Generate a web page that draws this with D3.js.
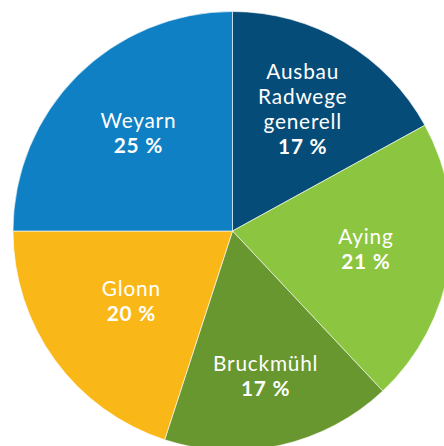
<!DOCTYPE html>
<html>
<head>
<meta charset="utf-8">
<script src="https://cdn.jsdelivr.net/npm/d3@7"></script>
<style>
    body { margin: 0; background: white; }
    .lbl { font-family: Lato, "Noto Sans", sans-serif; fill: white; letter-spacing: 0.8px; }
</style>
</head>
<body>
<svg width="444" height="446" id="mainsvg"></svg>
<script>
    // data
    const names = ["Ausbau Radwege generell", "Aying", "Bruckmühl", "Glonn", "Weyarn"];
    const labelLines = [["Ausbau", "Radwege", "generell"], ["Aying"], ["Bruckmühl"], ["Glonn"], ["Weyarn"]];
    const shares = [17, 21, 17, 20, 25];
    const colors = ["#054c79", "#8cc540", "#67972e", "#fab818", "#0f80c3"];

    // label distance from centre, per slice
    const labelRadius = { "Ausbau Radwege generell": 138, "Aying": 135, "Bruckmühl": 152, "Glonn": 125, "Weyarn": 133 };

    const svg = d3.select('#mainsvg');
    const cx = 232.5, cy = 231, radius = 219.5;
    const g = svg.append('g').attr('transform', `translate(${cx}, ${cy})`);

    const rows = names.map((n, i) => ({ name: n, value: shares[i], lines: labelLines[i], color: colors[i] }));

    const pie = d3.pie().sort(null).value(d => d.value);
    const arcs = pie(rows);
    const arc = d3.arc().innerRadius(0).outerRadius(radius);

    g.selectAll('.slice').data(arcs).join('path')
        .attr('class', 'slice')
        .attr('d', arc)
        .attr('fill', d => d.data.color)
        .attr('stroke', 'white')
        .attr('stroke-width', 0.6);

    const lineH = 25;
    const lbl = g.selectAll('.lbl').data(arcs).join('text')
        .attr('class', 'lbl')
        .attr('text-anchor', 'middle')
        .attr('font-size', 20.8)
        .attr('transform', d => {
            const r = labelRadius[d.data.name];
            const c = d3.arc().innerRadius(r).outerRadius(r).centroid(d);
            return `translate(${c[0]}, ${c[1]})`;
        });

    lbl.each(function (d) {
        const t = d3.select(this);
        const lines = d.data.lines.concat([`${d.data.value} %`]);
        const y0 = -(lines.length - 1) / 2 * lineH + 4;
        lines.forEach((s, i) => {
            t.append('tspan')
                .attr('x', 0)
                .attr('y', y0 + i * lineH)
                .attr('font-weight', i === lines.length - 1 ? 'bold' : 'normal')
                .text(s);
        });
    });
</script>
</body>
</html>
